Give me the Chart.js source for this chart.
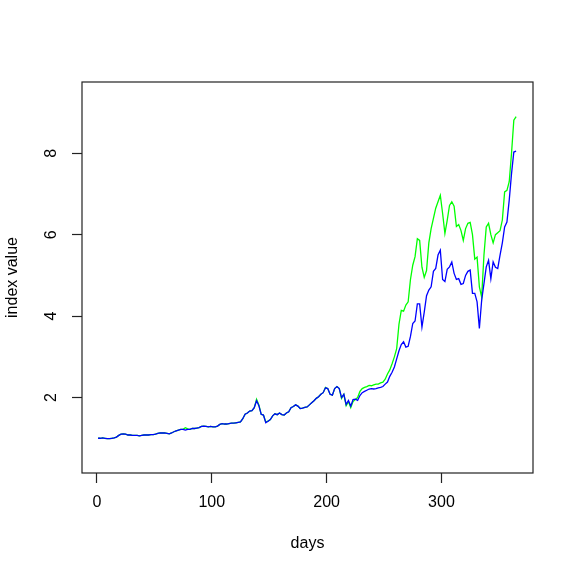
<!DOCTYPE html>
<html>
<head>
<meta charset="utf-8">
<script src="https://cdn.jsdelivr.net/npm/chart.js@4/dist/chart.umd.min.js"></script>
<style>
  html, body { margin: 0; padding: 0; background: #fff; }
  canvas { display: block; }
</style>
</head>
<body>
<canvas id="c" width="575" height="575"></canvas>
<script>
// days sampled every other day
const days = [];
for (let d = 1; d <= 365; d += 2) days.push(d);

const blueSeries = [
  1.00, 1.00, 1.01, 1.00, 0.99, 0.99, 1.00, 1.01, 1.03, 1.07,
  1.10, 1.11, 1.10, 1.08, 1.08, 1.07, 1.07, 1.07, 1.06, 1.07,
  1.08, 1.08, 1.08, 1.09, 1.09, 1.10, 1.12, 1.13, 1.13, 1.13,
  1.12, 1.11, 1.13, 1.16, 1.18, 1.20, 1.22, 1.22, 1.20, 1.22,
  1.22, 1.24, 1.24, 1.25, 1.26, 1.29, 1.30, 1.29, 1.28, 1.29,
  1.28, 1.28, 1.30, 1.34, 1.36, 1.35, 1.35, 1.36, 1.37, 1.37,
  1.38, 1.39, 1.40, 1.48, 1.59, 1.62, 1.67, 1.68, 1.75, 1.92,
  1.80, 1.59, 1.57, 1.38, 1.42, 1.46, 1.55, 1.60, 1.58, 1.62,
  1.58, 1.57, 1.62, 1.65, 1.75, 1.78, 1.82, 1.79, 1.73, 1.74,
  1.76, 1.77, 1.82, 1.87, 1.92, 1.98, 2.02, 2.08, 2.12, 2.24,
  2.22, 2.08, 2.06, 2.22, 2.27, 2.22, 2.00, 2.08, 1.83, 1.93,
  1.79, 1.95, 1.96, 1.93, 2.05, 2.12, 2.15, 2.18, 2.21, 2.22,
  2.21, 2.22, 2.24, 2.25, 2.27, 2.33, 2.38, 2.52, 2.62, 2.75,
  2.95, 3.15, 3.30, 3.37, 3.24, 3.26, 3.50, 3.82, 3.88, 4.30,
  4.30, 3.73, 4.10, 4.50, 4.64, 4.72, 5.10, 5.17, 5.50, 5.62,
  4.90, 4.85, 5.15, 5.21, 5.33, 5.05, 4.90, 4.92, 4.78, 4.80,
  5.00, 5.10, 5.13, 4.56, 4.56, 4.35, 3.70, 4.39, 4.80, 5.21,
  5.37, 4.92, 5.33, 5.20, 5.17, 5.50, 5.80, 6.19, 6.31, 6.85,
  7.50, 8.03, 8.05
];

const greenSeries = [
  1.00, 1.00, 1.01, 1.00, 0.99, 0.99, 1.00, 1.01, 1.03, 1.07,
  1.10, 1.11, 1.10, 1.08, 1.08, 1.07, 1.07, 1.07, 1.06, 1.07,
  1.08, 1.08, 1.08, 1.09, 1.09, 1.10, 1.12, 1.13, 1.13, 1.13,
  1.12, 1.11, 1.13, 1.16, 1.18, 1.20, 1.22, 1.22, 1.26, 1.23,
  1.22, 1.24, 1.24, 1.25, 1.26, 1.29, 1.30, 1.29, 1.28, 1.29,
  1.28, 1.28, 1.30, 1.34, 1.36, 1.35, 1.35, 1.36, 1.37, 1.37,
  1.38, 1.39, 1.40, 1.48, 1.59, 1.62, 1.67, 1.68, 1.75, 1.96,
  1.82, 1.59, 1.57, 1.40, 1.42, 1.46, 1.55, 1.60, 1.58, 1.62,
  1.58, 1.57, 1.62, 1.65, 1.75, 1.78, 1.82, 1.79, 1.73, 1.74,
  1.76, 1.77, 1.82, 1.87, 1.92, 1.98, 2.02, 2.08, 2.12, 2.25,
  2.22, 2.08, 2.06, 2.22, 2.27, 2.22, 1.98, 2.08, 1.80, 1.90,
  1.75, 1.90, 1.95, 2.00, 2.15, 2.22, 2.25, 2.27, 2.30, 2.29,
  2.31, 2.33, 2.33, 2.36, 2.38, 2.45, 2.58, 2.68, 2.83, 3.00,
  3.20, 3.80, 4.14, 4.12, 4.27, 4.35, 4.90, 5.25, 5.46, 5.90,
  5.86, 5.20, 4.95, 5.12, 5.80, 6.15, 6.40, 6.65, 6.81, 6.97,
  6.52, 6.03, 6.35, 6.72, 6.81, 6.70, 6.20, 6.25, 6.10, 5.86,
  6.15, 6.28, 6.30, 6.00, 5.40, 5.45, 4.72, 4.47, 5.50, 6.19,
  6.28, 6.00, 5.80, 6.00, 6.05, 6.10, 6.36, 7.05, 7.09, 7.30,
  8.00, 8.81, 8.90
];

const xTicks = [0, 100, 200, 300];
const xTickLabels = ['0', '100', '200', '300'];
const yTicks = [2, 4, 6, 8];
const yTickLabels = ['2', '4', '6', '8'];

const FONT = '16px "Liberation Sans", Arial, Helvetica, sans-serif';

// R-style frame, tick labels and axis titles
const rFrame = {
  id: 'rFrame',
  afterDraw(chart) {
    const ctx = chart.ctx;
    const a = chart.chartArea;
    const xs = chart.scales.x, ys = chart.scales.y;
    ctx.save();
    ctx.strokeStyle = '#222';
    ctx.lineWidth = 1.2;
    ctx.strokeRect(a.left, a.top, a.right - a.left, a.bottom - a.top);

    ctx.fillStyle = '#000';
    ctx.font = FONT;
    ctx.textAlign = 'center';
    ctx.textBaseline = 'middle';
    xTicks.forEach((v, i) => {
      ctx.fillText(xTickLabels[i], xs.getPixelForValue(v), 503);
    });
    ctx.fillText('days', (a.left + a.right) / 2, 544);

    yTicks.forEach((v, i) => {
      ctx.save();
      ctx.translate(52, ys.getPixelForValue(v));
      ctx.rotate(-Math.PI / 2);
      ctx.fillText(yTickLabels[i], 0, 0);
      ctx.restore();
    });
    ctx.save();
    ctx.translate(13, (a.top + a.bottom) / 2);
    ctx.rotate(-Math.PI / 2);
    ctx.fillText('index value', 0, 0);
    ctx.restore();
    ctx.restore();
  }
};

const tickGrid = {
  drawOnChartArea: false,
  drawTicks: true,
  tickLength: 10,
  tickWidth: 1.2,
  tickColor: '#222'
};

new Chart(document.getElementById('c'), {
  type: 'line',
  data: {
    datasets: [
      {
        label: 'blue',
        data: days.map((d, i) => ({ x: d, y: blueSeries[i] })),
        borderColor: '#0000ff',
        borderWidth: 1.3,
        pointRadius: 0,
        tension: 0,
        order: 0
      },
      {
        label: 'green',
        data: days.map((d, i) => ({ x: d, y: greenSeries[i] })),
        borderColor: '#00ff00',
        borderWidth: 1.3,
        pointRadius: 0,
        tension: 0,
        order: 1
      }
    ]
  },
  options: {
    responsive: false,
    animation: false,
    devicePixelRatio: 1,
    layout: { padding: { top: 82, right: 42, left: 0, bottom: 0 } },
    plugins: { legend: { display: false }, tooltip: { enabled: false } },
    scales: {
      x: {
        type: 'linear',
        min: -13.0,
        max: 379.7,
        afterBuildTicks: s => { s.ticks = xTicks.map(v => ({ value: v })); },
        afterFit: s => { s.height = 102; },
        ticks: { display: false },
        grid: tickGrid,
        border: { display: false }
      },
      y: {
        type: 'linear',
        min: 0.147,
        max: 9.75,
        afterBuildTicks: s => { s.ticks = yTicks.map(v => ({ value: v })); },
        afterFit: s => { s.width = 82; },
        ticks: { display: false },
        grid: tickGrid,
        border: { display: false }
      }
    }
  },
  plugins: [rFrame]
});
</script>
</body>
</html>
